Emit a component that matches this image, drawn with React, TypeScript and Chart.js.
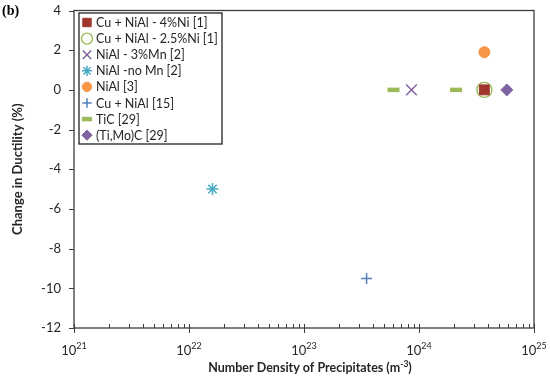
import React, { useEffect, useRef } from 'react';
import { Chart, registerables } from 'chart.js';
import { drawPoint } from 'chart.js/helpers';

Chart.register(...registerables);

// ---- data ----
const seriesLabels = [
  'Cu + NiAl - 4%Ni [1]',
  'Cu + NiAl - 2.5%Ni [1]',
  'NiAl - 3%Mn [2]',
  'NiAl -no Mn [2]',
  'NiAl [3]',
  'Cu + NiAl [15]',
  'TiC [29]',
  '(Ti,Mo)C [29]',
];
const cuNiAl4X = [3.7e24];
const cuNiAl4Y = [0];
const cuNiAl25X = [3.7e24];
const cuNiAl25Y = [0];
const niAlMnX = [8.6e23];
const niAlMnY = [0];
const niAlNoMnX = [1.6e22];
const niAlNoMnY = [-5];
const niAlX = [3.7e24];
const niAlY = [1.9];
const cuNiAl15X = [3.5e23];
const cuNiAl15Y = [-9.5];
const ticX = [6.0e23, 2.1e24];
const ticY = [0, 0];
const tiMoCX = [5.8e24];
const tiMoCY = [0];

const xTickExponents = [21, 22, 23, 24, 25];
const yTicks = [4, 2, 0, -2, -4, -6, -8, -10, -12];
const xTitle = 'Number Density of Precipitates (m';
const xTitleSup = '-3';
const yTitle = 'Change in Ductility (%)';
const panelLabel = '(b)';

const FONT = 'Lato, "Open Sans", sans-serif';
const AXIS = '#3c3c3c';

const pts = (xs: number[], ys: number[]) => xs.map((x, i) => ({ x, y: ys[i] }));

const styles = [
  { pointStyle: 'rect', radius: 7, bg: '#A0352E', border: '#A0352E', bw: 1 },
  { pointStyle: 'circle', radius: 7.5, bg: 'rgba(0,0,0,0)', border: '#9BBB59', bw: 1.4 },
  { pointStyle: 'crossRot', radius: 7.5, bg: '#8064A2', border: '#8064A2', bw: 1.5 },
  { pointStyle: 'star', radius: 6, bg: '#4BACC6', border: '#4BACC6', bw: 1.5 },
  { pointStyle: 'circle', radius: 5.5, bg: '#F79646', border: '#F79646', bw: 1 },
  { pointStyle: 'cross', radius: 5.5, bg: '#4F81BD', border: '#4F81BD', bw: 1.5 },
  { pointStyle: 'line', radius: 6, bg: '#9BBB59', border: '#9BBB59', bw: 4.5 },
  { pointStyle: 'rectRot', radius: 6, bg: '#8064A2', border: '#8064A2', bw: 1 },
];

const seriesData = [
  pts(cuNiAl4X, cuNiAl4Y),
  pts(cuNiAl25X, cuNiAl25Y),
  pts(niAlMnX, niAlMnY),
  pts(niAlNoMnX, niAlNoMnY),
  pts(niAlX, niAlY),
  pts(cuNiAl15X, cuNiAl15Y),
  pts(ticX, ticY),
  pts(tiMoCX, tiMoCY),
];

const framePlugin = {
  id: 'frame',
  afterDraw(chart: any) {
    const { ctx, chartArea: a } = chart;
    const xs = chart.scales.x;
    const ys = chart.scales.y;
    ctx.save();
    ctx.strokeStyle = AXIS;
    ctx.lineWidth = 1.3;
    ctx.strokeRect(a.left, a.top, a.right - a.left, a.bottom - a.top);
    ctx.lineWidth = 1;
    ctx.beginPath();
    // y ticks outward
    yTicks.forEach((v) => {
      const py = Math.round(ys.getPixelForValue(v)) + 0.5;
      ctx.moveTo(a.left - 5, py);
      ctx.lineTo(a.left, py);
    });
    // x ticks: majors crossing, minors inward
    xTickExponents.forEach((e, i) => {
      const px = Math.round(xs.getPixelForValue(Math.pow(10, e))) + 0.5;
      ctx.moveTo(px, a.bottom - 4);
      ctx.lineTo(px, a.bottom + 5);
      if (i < xTickExponents.length - 1) {
        for (let m = 2; m <= 9; m++) {
          const mx = Math.round(xs.getPixelForValue(m * Math.pow(10, e))) + 0.5;
          ctx.moveTo(mx, a.bottom - 4);
          ctx.lineTo(mx, a.bottom);
        }
      }
    });
    ctx.stroke();

    // x tick labels 10^n
    ctx.fillStyle = '#262626';
    ctx.textBaseline = 'alphabetic';
    xTickExponents.forEach((e) => {
      const px = xs.getPixelForValue(Math.pow(10, e));
      ctx.font = `13px ${FONT}`;
      const w1 = ctx.measureText('10').width;
      ctx.font = `9px ${FONT}`;
      const w2 = ctx.measureText(String(e)).width;
      const x0 = px - (w1 + w2) / 2;
      ctx.font = `13px ${FONT}`;
      ctx.textAlign = 'left';
      ctx.fillText('10', x0, a.bottom + 27);
      ctx.font = `9px ${FONT}`;
      ctx.fillText(String(e), x0 + w1, a.bottom + 21);
    });

    // x title with superscript
    ctx.font = `bold 12.5px ${FONT}`;
    const t1 = ctx.measureText(xTitle).width;
    ctx.font = `bold 8.5px ${FONT}`;
    const t2 = ctx.measureText(xTitleSup).width;
    ctx.font = `bold 12.5px ${FONT}`;
    const t3 = ctx.measureText(')').width;
    const cx = (a.left + a.right) / 2 + 6;
    let tx = cx - (t1 + t2 + t3) / 2;
    const ty = a.bottom + 44;
    ctx.fillText(xTitle, tx, ty);
    tx += t1;
    ctx.font = `bold 8.5px ${FONT}`;
    ctx.fillText(xTitleSup, tx, ty - 5);
    tx += t2;
    ctx.font = `bold 12.5px ${FONT}`;
    ctx.fillText(')', tx, ty);

    // panel label
    ctx.font = 'bold 14px "Liberation Serif", serif';
    ctx.fillStyle = '#000';
    ctx.fillText(panelLabel, 2, 15);

    // legend
    const lx = 79, ly = 13, lw = 143, lh = 131;
    ctx.fillStyle = '#fff';
    ctx.fillRect(lx, ly, lw, lh);
    ctx.strokeStyle = '#222';
    ctx.lineWidth = 1.3;
    ctx.strokeRect(lx, ly, lw, lh);
    seriesLabels.forEach((label, i) => {
      const y = ly + 9.5 + i * 16.1;
      const s = styles[i];
      ctx.save();
      ctx.fillStyle = s.bg;
      ctx.strokeStyle = s.border;
      ctx.lineWidth = s.bw;
      drawPoint(ctx, { pointStyle: s.pointStyle as any, radius: s.pointStyle === 'circle' && i === 1 ? 5.5 : Math.min(s.radius, 7) * 0.85, rotation: 0, borderWidth: s.bw }, 87, y);
      ctx.restore();
      ctx.fillStyle = '#262626';
      ctx.font = `12.5px ${FONT}`;
      ctx.textAlign = 'left';
      ctx.textBaseline = 'middle';
      ctx.fillText(label, 96, y + 0.5);
    });
    ctx.restore();
  },
};

export default function App() {
  const ref = useRef<HTMLCanvasElement>(null);
  useEffect(() => {
    document.body.style.margin = '0';
    const chart = new Chart(ref.current!, {
      type: 'scatter',
      data: {
        datasets: seriesLabels.map((label, i) => ({
          label,
          data: seriesData[i],
          pointStyle: styles[i].pointStyle as any,
          pointRadius: styles[i].radius,
          pointHoverRadius: styles[i].radius,
          backgroundColor: styles[i].bg,
          borderColor: styles[i].border,
          pointBorderWidth: styles[i].bw,
          borderWidth: styles[i].bw,
          showLine: false,
          clip: false as any,
        })),
      },
      options: {
        animation: false,
        responsive: false,
        layout: { padding: { left: 0, top: 9, right: 16, bottom: 0 } },
        plugins: { legend: { display: false }, tooltip: { enabled: false } },
        scales: {
          x: {
            type: 'logarithmic',
            min: 1e21,
            max: 1e25,
            grid: { display: false, drawTicks: false },
            border: { display: false },
            ticks: { display: false },
            afterFit: (s: any) => { s.height = 52; s.paddingLeft = 0; s.paddingRight = 0; },
          },
          y: {
            min: -12,
            max: 4,
            grid: { display: false, drawTicks: false },
            border: { display: false },
            ticks: {
              stepSize: 2,
              padding: 13,
              color: '#262626',
              font: { family: FONT, size: 13 },
            },
            title: {
              display: true,
              text: yTitle,
              color: '#262626',
              font: { family: FONT, size: 13, weight: 'bold' },
              padding: { top: 10, bottom: 0 },
            },
            afterFit: (s: any) => { s.width = 74; s.paddingTop = 0; s.paddingBottom = 0; },
          },
        },
      },
      plugins: [framePlugin],
    });
    return () => chart.destroy();
  }, []);
  return <canvas ref={ref} width={550} height={380} style={{ display: 'block' }} />;
}
